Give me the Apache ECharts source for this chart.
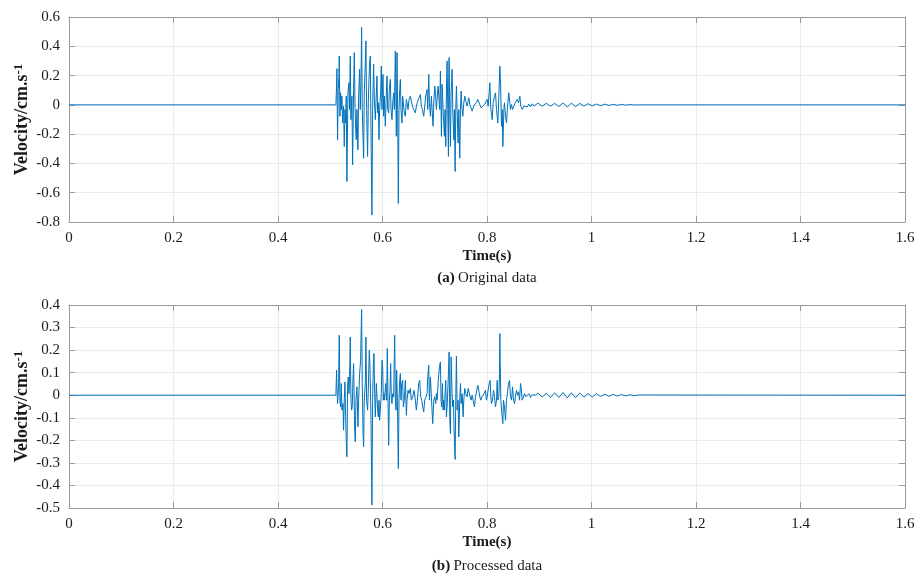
<!DOCTYPE html>
<html>
<head>
<meta charset="utf-8">
<script src="https://cdn.jsdelivr.net/npm/echarts@6/dist/echarts.min.js"></script>
<style>html,body{margin:0;padding:0;background:#fff}#c{width:924px;height:580px}</style>
</head>
<body>
<div id="c"></div>
<script>
// ---- data: [time (s), velocity (cm/s)] ----
const xTicks = [0, 0.2, 0.4, 0.6, 0.8, 1.0, 1.2, 1.4, 1.6];
const topYTicks = [-0.8, -0.6, -0.4, -0.2, 0, 0.2, 0.4, 0.6];
const botYTicks = [-0.5, -0.4, -0.3, -0.2, -0.1, 0, 0.1, 0.2, 0.3, 0.4];

const originalData = [
[0,0],
[0.5108,0],[0.5121,0.128],[0.5128,0.247],[0.5134,-0.032],[0.5140,-0.238],[0.5153,0.105],[0.5166,0.197],[0.5172,0.334],[0.5185,-0.078],[0.5198,0.082],[0.5211,-0.032],[0.5223,0.059],[0.5236,-0.124],[0.5255,-0.009],[0.5268,-0.284],[0.5281,-0.032],[0.5294,-0.124],[0.5306,0.059],[0.5319,-0.524],[0.5338,0.082],[0.5358,0.151],[0.5370,-0.032],[0.5383,0.334],[0.5396,-0.101],[0.5415,0.059],[0.5428,-0.410],[0.5447,0.105],[0.5460,0.357],[0.5473,0.014],[0.5485,-0.146],[0.5498,-0.238],[0.5511,-0.032],[0.5530,-0.307],[0.5543,0.059],[0.5562,0.243],[0.5575,-0.032],[0.5588,0.151],[0.5600,0.529],[0.5613,-0.032],[0.5626,-0.215],[0.5639,-0.364],[0.5651,0.082],[0.5671,0.288],[0.5683,0.437],[0.5696,-0.032],[0.5715,-0.352],[0.5728,0.014],[0.5741,0.174],[0.5754,0.288],[0.5767,0.334],[0.5779,-0.146],[0.5798,-0.753],[0.5811,-0.032],[0.5830,0.277],[0.5843,0.059],[0.5862,-0.101],[0.5875,0.014],[0.5894,0.197],[0.5907,-0.055],[0.5920,0.014],[0.5933,-0.238],[0.5945,-0.032],[0.5965,0.082],[0.5977,0.265],[0.5990,-0.032],[0.6009,0.208],[0.6022,-0.078],[0.6035,0.059],[0.6054,-0.146],[0.6067,0.014],[0.6086,0.197],[0.6099,-0.032],[0.6118,-0.055],[0.6131,0.105],[0.6150,0.174],[0.6163,-0.032],[0.6182,-0.101],[0.6195,0.014],[0.6214,0.082],[0.6227,-0.032],[0.6246,0.368],[0.6259,-0.032],[0.6265,-0.215],[0.6278,0.357],[0.6290,-0.032],[0.6303,-0.673],[0.6316,-0.032],[0.6329,0.105],[0.6342,0.174],[0.6354,-0.032],[0.6374,-0.124],[0.6386,0.059],[0.6406,0.059],[0.6418,-0.055],[0.6437,-0.078],[0.6457,0.037],[0.6469,0.014],[0.6489,-0.032],[0.6508,0.037],[0.6533,0.059],[0.6559,0.014],[0.6584,-0.021],[0.6610,-0.032],[0.6629,-0.055],[0.6648,-0.009],[0.6674,0.025],[0.6699,0.048],[0.6725,0.071],[0.6744,-0.009],[0.6763,-0.032],[0.6789,-0.078],[0.6808,-0.009],[0.6827,0.059],[0.6853,0.105],[0.6866,-0.032],[0.6885,0.208],[0.6898,0.014],[0.6917,-0.078],[0.6936,0.059],[0.6949,-0.032],[0.6968,-0.146],[0.6981,0.014],[0.7000,0.128],[0.7013,0.082],[0.7032,-0.032],[0.7045,0.037],[0.7064,0.128],[0.7076,0.128],[0.7096,-0.032],
[0.7108,0.231],[0.7121,-0.032],[0.7128,-0.215],[0.7140,0.140],[0.7153,0.140],[0.7166,-0.078],[0.7185,-0.215],[0.7198,-0.032],[0.7211,-0.284],[0.7223,0.082],[0.7236,0.300],[0.7249,-0.032],[0.7262,-0.352],[0.7268,0.197],[0.7275,0.323],[0.7287,-0.032],[0.7300,-0.284],[0.7313,0.082],[0.7332,0.243],[0.7345,-0.032],[0.7364,-0.238],[0.7377,-0.032],[0.7390,-0.455],[0.7402,-0.032],[0.7415,0.128],[0.7428,-0.032],[0.7447,-0.261],[0.7460,-0.032],[0.7479,-0.364],[0.7492,-0.032],[0.7505,0.094],[0.7517,-0.009],[0.7537,-0.078],[0.7556,0.014],[0.7575,0.059],[0.7594,0.025],[0.7620,-0.009],[0.7639,0.025],[0.7652,0.048],[0.7671,0.002],[0.7696,-0.021],[0.7715,-0.043],[0.7735,-0.021],[0.7760,0.002],[0.7779,-0.009],[0.7799,0.014],[0.7824,0.037],[0.7843,0.037],[0.7862,0.002],[0.7888,-0.021],[0.7907,-0.032],[0.7926,-0.021],[0.7952,0.002],[0.7971,0.002],[0.7990,0.014],[0.8003,0.037],[0.8022,-0.009],[0.8041,0.082],[0.8054,0.151],[0.8073,-0.032],[0.8086,-0.055],[0.8099,-0.101],[0.8118,0.014],[0.8144,0.059],[0.8163,0.082],[0.8182,-0.032],[0.8207,-0.124],[0.8227,0.059],[0.8246,0.265],[0.8259,0.151],[0.8278,-0.146],[0.8291,-0.032],[0.8303,-0.284],[0.8323,-0.032],[0.8335,0.014],[0.8354,-0.078],[0.8374,-0.124],[0.8393,-0.009],[0.8418,0.082],[0.8438,0.014],[0.8450,-0.032],[0.8469,0.002],[0.8489,-0.032],[0.8514,-0.009],[0.8540,0.014],[0.8559,0.025],[0.8578,0.037],[0.8604,0.014],[0.8629,0.059],[0.8648,-0.009],[0.8674,-0.032],[0.8706,-0.009],[0.8738,0.002],[0.8770,-0.014],[0.8802,0.005],[0.8834,-0.014],[0.8866,0.007],[0.8898,-0.009],[0.8930,-0.002],
[0.8975,0.012],[0.9055,-0.010],[0.9135,0.011],[0.9215,-0.009],[0.9295,0.010],[0.9375,-0.011],[0.9455,0.013],[0.9535,-0.014],[0.9615,0.012],[0.9695,-0.012],[0.9775,0.010],[0.9855,-0.009],[0.9935,0.008],[1.0015,-0.007],[1.0095,0.006],[1.0175,-0.006],[1.0255,0.005],[1.0335,-0.004],[1.0415,0.004],[1.0495,-0.003],[1.0575,0.003],[1.0655,-0.002],[1.0735,0.002],[1.0815,-0.001],[1.0900,0],
[1.6,0]
];

const processedData = [
[0,0],
[0.5108,0],[0.5121,0.111],[0.5128,0.037],[0.5140,-0.037],[0.5159,0.037],[0.5172,0.266],[0.5185,-0.022],[0.5198,-0.052],[0.5211,0.052],[0.5223,-0.066],[0.5243,-0.037],[0.5255,-0.155],[0.5268,-0.022],[0.5281,0.059],[0.5294,-0.096],[0.5306,-0.199],[0.5319,-0.273],[0.5332,0.037],[0.5345,0.081],[0.5358,0.007],[0.5370,0.081],[0.5383,0.258],[0.5396,-0.022],[0.5409,-0.066],[0.5421,-0.052],[0.5434,0.066],[0.5447,0.140],[0.5466,-0.140],[0.5479,-0.207],[0.5492,-0.022],[0.5511,0.037],[0.5530,-0.140],[0.5543,-0.022],[0.5562,0.096],[0.5581,0.155],[0.5600,0.380],[0.5613,0.052],[0.5626,-0.155],[0.5639,-0.229],[0.5651,-0.022],[0.5671,0.052],[0.5683,0.258],[0.5696,-0.022],[0.5715,-0.066],[0.5728,0.022],[0.5747,0.199],[0.5760,0.126],[0.5779,-0.096],[0.5798,-0.487],[0.5811,-0.022],[0.5824,0.126],[0.5837,0.185],[0.5850,0.007],[0.5862,-0.096],[0.5882,0.052],[0.5894,0.052],[0.5907,-0.066],[0.5920,-0.096],[0.5933,-0.022],[0.5945,-0.111],[0.5958,-0.066],[0.5977,0.007],[0.5990,0.155],[0.6003,0.126],[0.6016,-0.022],[0.6028,0.007],[0.6041,-0.022],[0.6060,0.052],[0.6080,-0.022],[0.6092,0.207],[0.6105,-0.022],[0.6118,-0.222],[0.6131,-0.022],[0.6144,0.022],[0.6156,0.140],[0.6169,-0.022],[0.6182,-0.037],[0.6195,0.007],[0.6214,-0.007],[0.6233,0.266],[0.6246,-0.022],[0.6259,-0.066],[0.6271,0.111],[0.6284,-0.007],[0.6303,-0.325],[0.6316,-0.022],[0.6329,0.066],[0.6342,0.096],[0.6354,-0.022],[0.6367,0.052],[0.6386,0.066],[0.6399,-0.052],[0.6418,-0.022],[0.6437,0.066],[0.6457,-0.089],[0.6469,-0.022],[0.6489,0.022],[0.6508,0.007],[0.6533,0.030],[0.6552,-0.022],[0.6578,-0.007],[0.6604,0.022],[0.6629,-0.022],[0.6648,-0.066],[0.6667,-0.022],[0.6693,0.052],[0.6712,0.066],[0.6731,-0.007],[0.6751,-0.022],[0.6770,-0.052],[0.6789,-0.074],[0.6808,-0.022],[0.6834,-0.007],[0.6853,0.007],[0.6866,0.081],[0.6885,0.133],[0.6898,-0.022],[0.6917,0.081],[0.6936,-0.007],[0.6961,-0.126],[0.6981,-0.022],[0.7000,-0.007],[0.7019,-0.037],[0.7032,0.007],[0.7045,-0.022],[0.7064,0.052],[0.7089,0.126],
[0.7108,0.148],[0.7121,-0.022],[0.7134,-0.052],[0.7147,0.052],[0.7160,-0.066],[0.7172,-0.022],[0.7185,-0.066],[0.7198,0.007],[0.7211,0.066],[0.7223,-0.096],[0.7236,-0.052],[0.7255,0.052],[0.7275,0.192],[0.7287,-0.096],[0.7300,-0.170],[0.7313,0.170],[0.7319,0.177],[0.7332,0.007],[0.7345,-0.052],[0.7358,-0.022],[0.7370,-0.155],[0.7390,-0.285],[0.7402,-0.022],[0.7415,0.173],[0.7428,-0.066],[0.7447,-0.022],[0.7460,-0.185],[0.7479,-0.022],[0.7492,0.052],[0.7505,-0.037],[0.7524,0.007],[0.7543,-0.096],[0.7556,-0.022],[0.7575,0.030],[0.7594,0.007],[0.7620,-0.007],[0.7639,0.030],[0.7658,0.037],[0.7677,-0.007],[0.7696,-0.022],[0.7715,0],[0.7735,-0.022],[0.7760,-0.052],[0.7779,-0.007],[0.7799,0.015],[0.7824,0.044],[0.7843,0.022],[0.7862,-0.007],[0.7882,-0.022],[0.7901,-0.007],[0.7926,0],[0.7945,0.007],[0.7971,0.022],[0.7990,-0.022],[0.8003,-0.007],[0.8022,-0.007],[0.8041,0.052],[0.8061,0.066],[0.8073,-0.007],[0.8086,-0.037],[0.8105,-0.022],[0.8124,0.022],[0.8144,-0.007],[0.8163,-0.052],[0.8182,-0.022],[0.8195,0.066],[0.8207,-0.022],[0.8227,-0.007],[0.8239,0.096],[0.8246,0.273],[0.8252,0.155],[0.8265,-0.022],[0.8284,-0.081],[0.8303,-0.126],[0.8316,-0.022],[0.8335,-0.052],[0.8354,-0.111],[0.8374,-0.022],[0.8393,-0.022],[0.8412,0.052],[0.8431,0.066],[0.8450,-0.007],[0.8469,-0.022],[0.8489,0.037],[0.8508,-0.022],[0.8527,-0.037],[0.8546,0],[0.8565,0.022],[0.8585,0],[0.8604,0.015],[0.8623,-0.022],[0.8642,0.052],[0.8655,0.030],[0.8674,-0.022],[0.8693,-0.015],[0.8719,0.007],[0.8744,-0.007],[0.8770,0],[0.8802,0.007],[0.8834,-0.010],[0.8866,0.003],[0.8898,-0.004],[0.8930,0],
[0.8975,0.010],[0.9055,-0.009],[0.9135,0.009],[0.9215,-0.010],[0.9295,0.011],[0.9375,-0.010],[0.9455,0.012],[0.9535,-0.012],[0.9615,0.011],[0.9695,-0.011],[0.9775,0.010],[0.9855,-0.009],[0.9935,0.008],[1.0015,-0.008],[1.0095,0.007],[1.0175,-0.006],[1.0255,0.005],[1.0335,-0.005],[1.0415,0.004],[1.0495,-0.004],[1.0575,0.003],[1.0655,-0.003],[1.0735,0.002],[1.0815,-0.002],[1.0900,0.001],
[1.6,0]
];

// ---- styling ----
const FONT = '"Liberation Serif", "Times New Roman", serif';
const AXIS_COLOR = '#9a9a9a';
const TEXT_COLOR = '#1a1a1a';
const LINE_COLOR = '#0072BD';

function mainX(gi, ticks) {
  return {
    type: 'value', gridIndex: gi, min: ticks[0], max: ticks[ticks.length - 1],
    interval: 0.2,
    axisLine: { show: true, onZero: false, lineStyle: { color: AXIS_COLOR } },
    axisTick: { show: true, inside: true, length: 6, lineStyle: { color: AXIS_COLOR } },
    axisLabel: { fontFamily: FONT, fontSize: 15, color: TEXT_COLOR, margin: 9 },
    splitLine: { show: true, lineStyle: { color: '#ebebeb' } },
    name: 'Time(s)', nameLocation: 'middle', nameGap: 27, nameMoveOverlap: false,
    nameTextStyle: { fontFamily: FONT, fontSize: 15, fontWeight: 'bold', color: TEXT_COLOR }
  };
}
function topX(gi, ticks) {
  return {
    type: 'value', gridIndex: gi, position: 'top', min: ticks[0], max: ticks[ticks.length - 1],
    interval: 0.2,
    axisLine: { show: true, onZero: false, lineStyle: { color: AXIS_COLOR } },
    axisTick: { show: true, inside: true, length: 6, lineStyle: { color: AXIS_COLOR } },
    axisLabel: { show: false }, splitLine: { show: false }
  };
}
function mainY(gi, ticks, step) {
  return {
    type: 'value', gridIndex: gi, min: ticks[0], max: ticks[ticks.length - 1],
    interval: step,
    axisLine: { show: true, onZero: false, lineStyle: { color: AXIS_COLOR } },
    axisTick: { show: true, inside: true, length: 6, lineStyle: { color: AXIS_COLOR } },
    axisLabel: { fontFamily: FONT, fontSize: 15, color: TEXT_COLOR, margin: 9,
      formatter: v => String(Math.round(v * 10) / 10) },
    splitLine: { show: true, lineStyle: { color: '#ebebeb' } },
    name: '{n|Velocity/cm.s}{s|-1}', nameLocation: 'middle', nameGap: 37, nameMoveOverlap: false,
    nameTextStyle: {
      rich: {
        n: { fontFamily: FONT, fontSize: 18, fontWeight: 'bold', color: TEXT_COLOR, lineHeight: 20 },
        s: { fontFamily: FONT, fontSize: 13, fontWeight: 'bold', color: TEXT_COLOR, lineHeight: 20, verticalAlign: 'top' }
      }
    }
  };
}
function rightY(gi, ticks, step) {
  return {
    type: 'value', gridIndex: gi, position: 'right', min: ticks[0], max: ticks[ticks.length - 1],
    interval: step,
    axisLine: { show: true, onZero: false, lineStyle: { color: AXIS_COLOR } },
    axisTick: { show: true, inside: true, length: 6, lineStyle: { color: AXIS_COLOR } },
    axisLabel: { show: false }, splitLine: { show: false }
  };
}

const option = {
  animation: false,
  backgroundColor: '#fff',
  grid: [
    { left: 69, right: 19, top: 17, height: 205 },
    { left: 69, right: 19, top: 305, height: 203 }
  ],
  xAxis: [mainX(0, xTicks), topX(0, xTicks), mainX(1, xTicks), topX(1, xTicks)],
  yAxis: [mainY(0, topYTicks, 0.2), rightY(0, topYTicks, 0.2), mainY(1, botYTicks, 0.1), rightY(1, botYTicks, 0.1)],
  graphic: [
    { type: 'text', x: 487, y: 278, style: {
      text: '{b|(a)} {r|Original data}', align: 'center', verticalAlign: 'middle',
      rich: { b: { fontFamily: FONT, fontSize: 15, fontWeight: 'bold', fill: TEXT_COLOR },
              r: { fontFamily: FONT, fontSize: 15, fill: TEXT_COLOR } } } },
    { type: 'text', x: 487, y: 566, style: {
      text: '{b|(b)} {r|Processed data}', align: 'center', verticalAlign: 'middle',
      rich: { b: { fontFamily: FONT, fontSize: 15, fontWeight: 'bold', fill: TEXT_COLOR },
              r: { fontFamily: FONT, fontSize: 15, fill: TEXT_COLOR } } } }
  ],
  series: [
    { type: 'line', xAxisIndex: 0, yAxisIndex: 0, data: originalData, showSymbol: false,
      lineStyle: { color: LINE_COLOR, width: 1 }, itemStyle: { color: LINE_COLOR }, sampling: false },
    { type: 'line', xAxisIndex: 2, yAxisIndex: 2, data: processedData, showSymbol: false,
      lineStyle: { color: LINE_COLOR, width: 1 }, itemStyle: { color: LINE_COLOR }, sampling: false }
  ]
};

const chart = echarts.init(document.getElementById('c'), null, { renderer: 'canvas' });
chart.setOption(option);
</script>
</body>
</html>
